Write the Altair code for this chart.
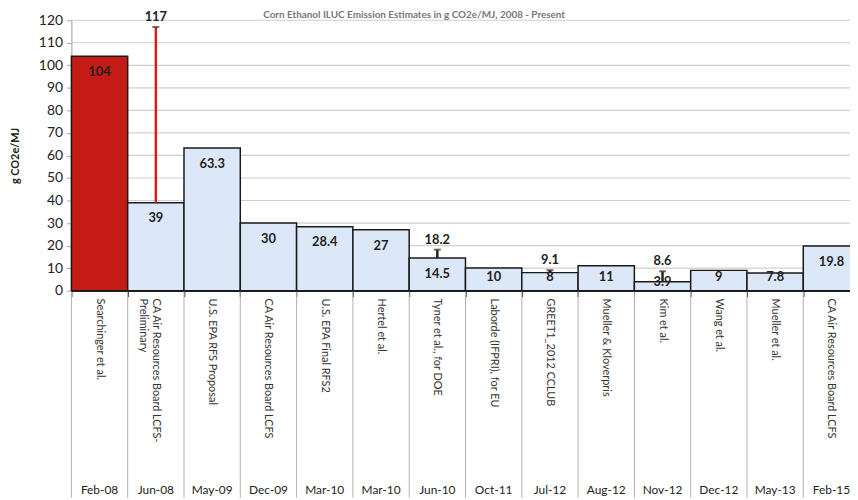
import altair as alt
import pandas as pd

labels = ["Searchinger et al.", "CA Air Resources Board LCFS-\nPreliminary", "U.S. EPA RFS Proposal",
          "CA Air Resources Board LCFS", "U.S. EPA Final RFS2", "Hertel et al.", "Tyner et al., for DOE",
          "Laborde (IFPRI), for EU", "GREET1_2012 CCLUB", "Mueller & Kloverpris", "Kim et al.",
          "Wang et al.", "Mueller et al.", "CA Air Resources Board LCFS"]
dates = ["Feb-08", "Jun-08", "May-09", "Dec-09", "Mar-10", "Mar-10", "Jun-10", "Oct-11", "Jul-12",
         "Aug-12", "Nov-12", "Dec-12", "May-13", "Feb-15"]
values = [104, 39, 63.3, 30, 28.4, 27, 14.5, 10, 8, 11, 3.9, 9, 7.8, 19.8]
upper = [None, 117, None, None, None, None, 18.2, None, 9.1, None, 8.6, None, None, None]
y_ticks = [0, 10, 20, 30, 40, 50, 60, 70, 80, 90, 100, 110, 120]
title_text = "Corn Ethanol ILUC Emission Estimates in g CO2e/MJ, 2008 - Present"

df = pd.DataFrame({
    "i": list(range(len(labels))),
    "label": labels,
    "date": dates,
    "value": values,
    "upper": upper,
})

FONT = "Lato"
XMAX = 13.83
xs = alt.Scale(domain=[0, XMAX], nice=False, zero=True, padding=0)
ys = alt.Scale(domain=[0, 120], nice=False, padding=0)
yaxis = alt.Axis(values=y_ticks, labelFontSize=14, labelColor="#222",
                 labelFont=FONT, titleFont=FONT, titleFontSize=11, titleFontWeight="bold",
                 titleColor="#222", titlePadding=18, tickSize=5, tickColor="#aaa",
                 domainColor="#999", grid=False, labelPadding=4,
                 labelOverlap=False, title="g CO2e/MJ")
xaxis = alt.Axis(values=list(range(15)), labels=False, ticks=True, tickSize=6,
                 tickColor="#222", domainColor="#222", domainWidth=1.5, grid=False, title=None)

def X(f):
    return alt.X(f, scale=xs, axis=xaxis)

def Y(f):
    return alt.Y(f, scale=ys, axis=yaxis)

base = alt.Chart(df).transform_calculate(
    i1="datum.i + 1", mid="datum.i + 0.5",
    labpos="max(datum.value - 7, min(datum.value, 6))"
)

grid = alt.Chart(pd.DataFrame({"t": y_ticks[1:], "x0": 0.0, "x1": XMAX})).mark_rule(
    color="#cfcfcf", strokeWidth=1.2).encode(
    y=Y("t:Q"), x=X("x0:Q"), x2="x1:Q")

bars = base.mark_bar(stroke="#1a1a1a", strokeWidth=1.5, orient="vertical").encode(
    x=X("i:Q"), x2="i1:Q", y=Y("value:Q"), y2=alt.datum(0),
    color=alt.condition(alt.datum.i == 0, alt.value("#c41b16"), alt.value("#dce8f7")),
)

err = base.transform_filter("isValid(datum.upper)").mark_rule(strokeWidth=2.5).encode(
    x=X("mid:Q"), y=Y("value:Q"), y2="upper:Q",
    color=alt.condition(alt.datum.i == 1, alt.value("#d3201c"), alt.value("#222")),
)
caps = base.transform_filter("isValid(datum.upper)").mark_tick(
    orient="horizontal", size=7, thickness=2, color="#4a2a20").encode(
    x=X("mid:Q"), y=Y("upper:Q"))

vlab = base.mark_text(font=FONT, fontSize=13, fontWeight="bold", color="#222", baseline="middle").encode(
    x=X("mid:Q"), y=Y("labpos:Q"), text=alt.Text("value:Q", format="~g"))
ulab = base.transform_filter("isValid(datum.upper)").mark_text(
    font=FONT, fontSize=13, fontWeight="bold", color="#222", baseline="bottom", dy=-3).encode(
    x=X("mid:Q"), y=Y("upper:Q"), text=alt.Text("upper:Q", format="~g"))

names = base.mark_text(font=FONT, fontSize=11, color="#333", angle=90, align="left",
                       baseline="middle", lineBreak="\n").encode(
    x=X("mid:Q"), y=alt.value(281), text="label:N")
dlab = base.mark_text(font=FONT, fontSize=12, color="#222", baseline="middle").encode(
    x=X("mid:Q"), y=alt.value(474), text="date:N")
seps = base.mark_rule(color="#b0b0b0", strokeWidth=1).encode(
    x=X("i:Q"), y=alt.value(273), y2=alt.value(482))

title = alt.Chart(pd.DataFrame({"t": [title_text]})).mark_text(
    font=FONT, fontSize=10, fontWeight="bold", color="#777", baseline="top").encode(
    x=alt.value(346), y=alt.value(-10), text="t:N")

chart = alt.layer(grid, seps, bars, err, caps, vlab, ulab, names, dlab, title).properties(
    width=786, height=273,
    autosize=alt.AutoSizeParams(type="none"),
    padding={"left": 64, "top": 10, "right": 0, "bottom": 209},
    background="white",
).configure_view(stroke=None)

chart.save("out.html", embed_options={"renderer": "svg", "actions": False})
